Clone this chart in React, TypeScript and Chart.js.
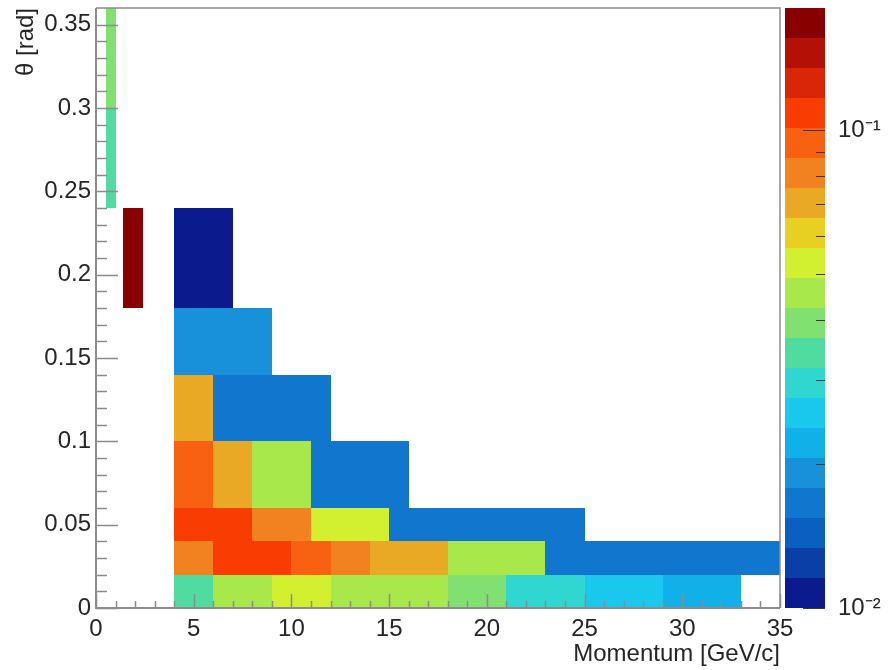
import React, { useEffect, useRef } from 'react';
import { Chart, registerables } from 'chart.js';

Chart.register(...registerables);

// ---------- data ----------
const xAxisTitle = 'Momentum [GeV/c]';
const yAxisTitle = 'θ [rad]';

const momentumMin = 0;
const momentumMax = 35;
const thetaMin = 0;
const thetaMax = 0.36;
const zMin = 0.01;
const zMax = 0.18;

// one entry per filled cell (momentum range, theta range, content)
const cellPLow = [
  4, 6, 9, 12, 18, 21, 25, 29,
  4, 6, 10, 12, 14, 18, 23,
  4, 8, 11, 15,
  4, 6, 8, 11,
  4, 6,
  4,
  1.4, 4,
  0.5,
  0.5,
];
const cellPHigh = [
  6, 9, 12, 18, 21, 25, 29, 33,
  6, 10, 12, 14, 18, 23, 35,
  8, 11, 15, 25,
  6, 8, 11, 16,
  6, 12,
  9,
  2.4, 7,
  1,
  1,
];
const cellThetaLow = [
  0, 0, 0, 0, 0, 0, 0, 0,
  0.02, 0.02, 0.02, 0.02, 0.02, 0.02, 0.02,
  0.04, 0.04, 0.04, 0.04,
  0.06, 0.06, 0.06, 0.06,
  0.1, 0.1,
  0.14,
  0.18, 0.18,
  0.24,
  0.3,
];
const cellThetaHigh = [
  0.02, 0.02, 0.02, 0.02, 0.02, 0.02, 0.02, 0.02,
  0.04, 0.04, 0.04, 0.04, 0.04, 0.04, 0.04,
  0.06, 0.06, 0.06, 0.06,
  0.1, 0.1, 0.1, 0.1,
  0.14, 0.14,
  0.18,
  0.24, 0.24,
  0.3,
  0.36,
];
const cellValue = [
  0.034, 0.046, 0.053, 0.046, 0.039, 0.030, 0.026, 0.022,
  0.081, 0.108, 0.094, 0.081, 0.070, 0.046, 0.0166,
  0.108, 0.081, 0.053, 0.0166,
  0.094, 0.070, 0.046, 0.0166,
  0.070, 0.0166,
  0.0192,
  0.167, 0.0108,
  0.034,
  0.039,
];

// palette, lowest contour first
const paletteColors = [
  '#0b1a8c', '#0b3fa8', '#0b5fc0', '#1076ce', '#1890da',
  '#12b0e8', '#1ac8ee', '#30d6d0', '#50dca0', '#80e070',
  '#a8e84a', '#d2f030', '#e8d022', '#e9a924', '#f2821f',
  '#f86012', '#f83c02', '#d82606', '#b41006', '#880000',
];
const paletteLevels = 20;

const colorbarTickValues = [0.01, 0.1];
const colorbarTickLabels = ['10⁻²', '10⁻¹'];
const colorbarMinorValues = [0.02, 0.03, 0.04, 0.05, 0.06, 0.07, 0.08, 0.09];

// ---------- style ----------
const FONT = '"Liberation Sans", Arial, Helvetica, sans-serif';
const TEXT = '#262626';
const AXIS = '#8c8c8c';

function colorFor(v: number): string {
  const f = (Math.log10(v) - Math.log10(zMin)) / (Math.log10(zMax) - Math.log10(zMin));
  let idx = Math.floor(f * paletteLevels);
  if (idx < 0) idx = 0;
  if (idx > paletteLevels - 1) idx = paletteLevels - 1;
  return paletteColors[idx];
}

const heatmapPlugin = {
  id: 'heatmap',
  beforeDatasetsDraw(chart: any) {
    const { ctx, chartArea, scales } = chart;
    const x = scales.x;
    const y = scales.y;
    ctx.save();
    ctx.beginPath();
    ctx.rect(chartArea.left, chartArea.top, chartArea.right - chartArea.left, chartArea.bottom - chartArea.top);
    ctx.clip();
    for (let i = 0; i < cellValue.length; i++) {
      const px0 = Math.round(x.getPixelForValue(cellPLow[i]));
      const px1 = Math.round(x.getPixelForValue(cellPHigh[i]));
      const py0 = Math.round(y.getPixelForValue(cellThetaLow[i]));
      const py1 = Math.round(y.getPixelForValue(cellThetaHigh[i]));
      ctx.fillStyle = colorFor(cellValue[i]);
      ctx.fillRect(px0, py1, px1 - px0, py0 - py1);
    }
    ctx.restore();
  },
  afterDraw(chart: any) {
    const { ctx, chartArea, scales } = chart;
    const x = scales.x;
    const y = scales.y;
    const z = scales.z;
    const { left, right, top, bottom } = chartArea;
    ctx.save();

    // frame
    ctx.strokeStyle = AXIS;
    ctx.lineWidth = 1.5;
    ctx.beginPath();
    ctx.moveTo(left, top);
    ctx.lineTo(right, top);
    ctx.lineTo(right, bottom);
    ctx.stroke();
    ctx.lineWidth = 2;
    ctx.beginPath();
    ctx.moveTo(left, top);
    ctx.lineTo(left, bottom);
    ctx.lineTo(right, bottom);
    ctx.stroke();

    // x ticks (inside)
    ctx.lineWidth = 1.5;
    ctx.beginPath();
    for (let v = momentumMin; v <= momentumMax; v += 1) {
      const px = Math.round(x.getPixelForValue(v)) + 0.5;
      const len = v % 5 === 0 ? 14 : 7;
      ctx.moveTo(px, bottom);
      ctx.lineTo(px, bottom - len);
    }
    // y ticks (inside)
    for (let k = 0; k <= 35; k++) {
      const v = k / 100;
      const py = Math.round(y.getPixelForValue(v)) + 0.5;
      const len = k % 5 === 0 ? 22 : 11;
      ctx.moveTo(left, py);
      ctx.lineTo(left + len, py);
    }
    ctx.stroke();

    // colour bar
    const bx0 = right + 5;
    const bx1 = right + 45;
    const lmin = Math.log10(zMin);
    const lmax = Math.log10(zMax);
    for (let k = 0; k < paletteLevels; k++) {
      const v0 = Math.pow(10, lmin + (k * (lmax - lmin)) / paletteLevels);
      const v1 = Math.pow(10, lmin + ((k + 1) * (lmax - lmin)) / paletteLevels);
      const p0 = Math.round(z.getPixelForValue(v0));
      const p1 = Math.round(z.getPixelForValue(v1));
      ctx.fillStyle = paletteColors[k];
      ctx.fillRect(bx0, p1, bx1 - bx0, p0 - p1);
    }
    ctx.strokeStyle = '#3a3a3a';
    ctx.lineWidth = 1.2;
    ctx.beginPath();
    for (const v of colorbarMinorValues) {
      const py = Math.round(z.getPixelForValue(v)) + 0.5;
      ctx.moveTo(bx1, py);
      ctx.lineTo(bx1 - 9, py);
    }
    for (const v of colorbarTickValues) {
      const py = Math.round(z.getPixelForValue(v)) + 0.5;
      ctx.moveTo(bx1, py);
      ctx.lineTo(bx1 - 22, py);
    }
    ctx.stroke();
    ctx.restore();
  },
};

export default function App() {
  const ref = useRef<HTMLCanvasElement>(null);
  useEffect(() => {
    document.body.style.margin = '0';
    const font = { family: FONT, size: 24 };
    const chart = new Chart(ref.current as HTMLCanvasElement, {
      type: 'scatter',
      data: { datasets: [{ data: [] }] },
      options: {
        responsive: false,
        animation: false,
        layout: { padding: { top: 8, left: 0, right: 0, bottom: 0 } },
        plugins: { legend: { display: false }, tooltip: { enabled: false } },
        scales: {
          x: {
            type: 'linear',
            min: momentumMin,
            max: momentumMax,
            grid: { display: false, drawTicks: false },
            border: { display: false },
            ticks: { stepSize: 5, padding: 7, color: TEXT, font, maxRotation: 0 },
            title: { display: true, text: xAxisTitle, align: 'end', color: TEXT, font, padding: { top: 0, bottom: 1 } },
            afterFit(s: any) {
              s.height = 62;
              s.paddingLeft = 0;
              s.paddingRight = 0;
            },
          },
          y: {
            type: 'linear',
            min: thetaMin,
            max: thetaMax,
            grid: { display: false, drawTicks: false },
            border: { display: false },
            ticks: {
              stepSize: 0.05,
              includeBounds: false,
              padding: 5,
              color: TEXT,
              font,
              callback: (v: any) => String(Number(Number(v).toFixed(4))),
            },
            title: { display: true, text: yAxisTitle, align: 'end', color: TEXT, font, padding: { top: 12, bottom: 0 } },
            afterFit(s: any) {
              s.width = 96;
              s.paddingTop = 0;
              s.paddingBottom = 0;
            },
          },
          z: {
            type: 'logarithmic',
            position: 'right',
            min: zMin,
            max: zMax,
            grid: { display: false, drawTicks: false },
            border: { display: false },
            ticks: {
              padding: 58,
              color: TEXT,
              font,
              autoSkip: false,
              callback: (v: any) => {
                const i = colorbarTickValues.findIndex((t) => Math.abs(t - Number(v)) < 1e-9);
                return i >= 0 ? colorbarTickLabels[i] : '';
              },
            },
            afterBuildTicks(s: any) {
              s.ticks = colorbarTickValues.map((v) => ({ value: v }));
            },
            afterFit(s: any) {
              s.width = 112;
              s.paddingTop = 0;
              s.paddingBottom = 0;
            },
          },
        },
      } as any,
      plugins: [heatmapPlugin],
    });
    return () => chart.destroy();
  }, []);
  return (
    <div style={{ width: 892, height: 670 }}>
      <canvas ref={ref} width={892} height={670} />
    </div>
  );
}
